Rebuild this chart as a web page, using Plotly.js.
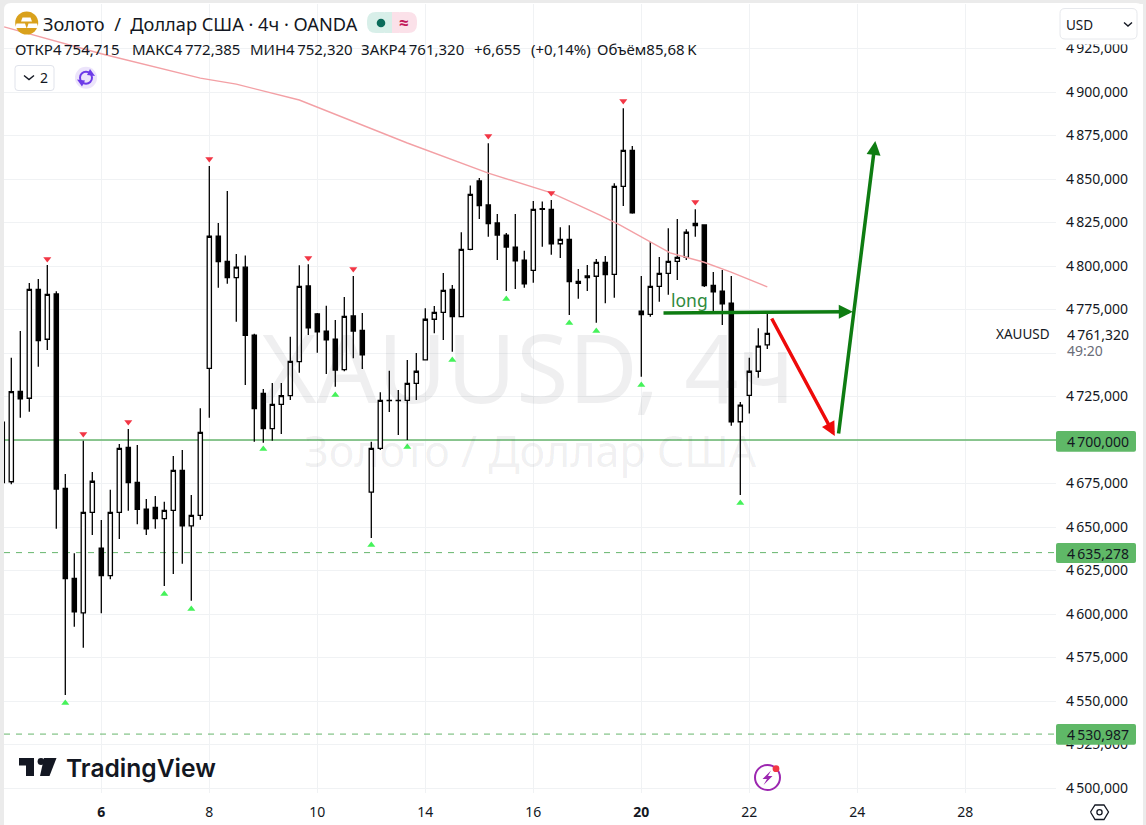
<!DOCTYPE html>
<html><head><meta charset="utf-8">
<script src="https://cdn.plot.ly/plotly-3.0.1.min.js"></script>
<style>html,body{margin:0;padding:0;background:#ebebeb}#c{width:1146px;height:825px}</style>
</head><body><div id="c"></div>
<script>
const openVals=[4710.3,4676,4728,4724,4786.6,4757.9,4783.9,4672.2,4620.5,4600.7,4658.4,4637.8,4622,4658.4,4695.8,4675.7,4660.2,4661.3,4654.8,4659.6,4682.6,4650.7,4656.7,4741.2,4817.1,4802.7,4793.3,4799.3,4760.2,4726.8,4706.5,4720.5,4725.5,4745,4788.5,4772.4,4762.6,4758,4740.4,4771.3,4763,4670.1,4695.2,4722.8,4722.8,4722.8,4732.6,4746,4769.4,4773.4,4786.6,4770.9,4809.6,4848.9,4835.1,4824.7,4817.8,4810.9,4803.4,4797.5,4832.6,4832.6,4812.8,4815.3,4791.2,4794.3,4794.1,4802.1,4795.2,4845.8,4866.5,4774,4772.2,4788.3,4795.8,4802.7,4805,4824.5,4823.6,4788.9,4785.6,4778.6,4710.5,4725.7,4739.5,4754.715];
const highVals=[4712,4747.3,4762.6,4790.2,4792.5,4800.6,4785.5,4680.5,4634.9,4699.6,4681.6,4654,4671.4,4697.7,4706.3,4697.1,4666.1,4667.8,4664.5,4690.8,4694.3,4668.4,4718.2,4857.5,4824.7,4843.1,4806.9,4806.1,4761,4729.3,4732.8,4732.8,4759.4,4800.4,4801,4773,4777.2,4769,4782.2,4794.3,4773,4699,4727.4,4739.8,4728.7,4746,4750,4775.7,4777,4796,4789.1,4819.4,4846.2,4850.6,4870.5,4829.9,4819,4829.9,4808.8,4837.4,4837,4838,4822.2,4823.4,4798.3,4800.6,4804,4805.7,4847.5,4890.6,4869,4794.3,4814,4805.2,4821.7,4827,4821.1,4832.6,4824,4796.6,4797.7,4794.3,4721.8,4747.3,4764.2,4772.385];
const lowVals=[4674,4674.5,4712.8,4716.3,4742.1,4751.7,4649,4553.4,4592.7,4580.6,4645.4,4600.4,4620,4643.1,4659.4,4651.6,4645.4,4649,4616.1,4623,4628.9,4607.6,4654.2,4712.8,4787.5,4789.8,4768,4731.6,4699,4698.4,4699.6,4703.4,4723,4738.7,4760.3,4750.2,4738,4730.6,4739.5,4747,4740.8,4643.7,4694.3,4716.1,4702.9,4700,4723,4745.7,4761.3,4757.5,4750.7,4770.5,4809,4827,4816.8,4803.4,4785.6,4786.8,4787.5,4790.4,4811.1,4806.5,4804.6,4771.8,4781.2,4785.6,4767.4,4778.6,4781.8,4834.5,4830,4736.4,4770.9,4779.5,4783.5,4792,4803.4,4816.8,4788,4773.7,4766.1,4708.2,4668.4,4715.3,4735.8,4752.32];
const closeVals=[4675.5,4727.8,4723.7,4786.6,4757.1,4783.7,4671.8,4620.3,4601.3,4658.4,4676.3,4622,4658.4,4695.2,4675.5,4660.2,4649,4654.8,4659.6,4682.6,4650.7,4656.7,4704.4,4817.1,4802.5,4793.3,4799.3,4760.2,4718,4706.5,4720.5,4725.5,4745.2,4788.3,4764.5,4762.1,4757.5,4740.2,4771.1,4762.6,4748.9,4695.2,4722.8,4722.6,4722.6,4732.6,4739.5,4769.4,4773.4,4786,4770.9,4809.6,4841.2,4834.7,4824.3,4817.8,4810.9,4803,4789.7,4832.6,4832.9,4812.8,4815.3,4791,4790,4793.3,4802.1,4795,4845.8,4866.5,4830.6,4772,4788.3,4795.8,4802.7,4805,4819.4,4823.2,4788.7,4785.2,4778.3,4710.5,4720,4739.5,4753.9,4761.32];
const candleIdx=openVals.map((_,i)=>i-1);

const maIdx=[-0.8,10,21,25,32,41,44,53,60,63,65.4,67.6,73.2,76.9,79.9,84];
const maVals=[4937.4,4922,4908,4904.5,4895.4,4877,4870.7,4853.4,4842,4835,4829.3,4823.6,4807.5,4802.3,4796.6,4788];

const pivotHighIdx=[4,8,13,22,33,38,53,60,68,76];
const pivotHighVals=[4804,4703.4,4710.3,4861.5,4804.6,4798.3,4874.7,4842,4894.8,4836.8];
const pivotLowIdx=[6,17,20,28,36,40,44,49,55,62,65,70,81];
const pivotLowVals=[4548.9,4611.5,4602.9,4694.8,4725.9,4639.7,4696,4746,4781,4767.2,4762.6,4731.6,4663.8];

const xTickVals=[10,22,34,46,58,70,82,94,106];
const xTickText=['<b>6</b>','8','10','14','16','<b>20</b>','22','24','28'];
const yTickVals=[4500,4525,4550,4575,4600,4625,4650,4675,4700,4725,4750,4775,4800,4825,4850,4875,4900,4925];
const yTickText=yTickVals.map(v=>'4\u2009'+String(v).slice(1)+',000');

const solidLevel=4700, dashLevels=[4635.278,4530.987];
const levelLabels=['4\u2009700,000','4\u2009635,278','4\u2009530,987'];
const legendParts=['ОТКР4\u2009754,715','МАКС4\u2009772,385','МИН4\u2009752,320','ЗАКР4\u2009761,320','+6,655','(+0,14%)','Объём85,68\u2009K'];
const legendLeft=[14,131,249,360,473,530,596];

const FONT='"Noto Sans","Open Sans",sans-serif', INK='#131722';
const L=4,R=1056,T=4,B=793;
const xRange=[(L-11.3)/9,(R-11.3)/9];
const X=p=>(p-L)/(R-L), Y=p=>(B-p)/(B-T);
const base={xref:'paper',yref:'paper'};
const poly=(pts,fill,layer)=>({...base,type:'path',layer:layer||'above',fillcolor:fill,line:{width:0},
  path:'M'+pts.map(p=>X(p[0])+','+Y(p[1])).join('L')+'Z'});
const stroke=(pts,color,w)=>({...base,type:'path',layer:'above',line:{color:color,width:w},
  path:'M'+pts.map(p=>X(p[0])+','+Y(p[1])).join('L')});
const rect=(x0,y0,x1,y1,fill,layer)=>({...base,type:'rect',layer:layer||'above',x0:X(x0),x1:X(x1),y0:Y(y0),y1:Y(y1),fillcolor:fill,line:{width:0}});
const circ=(cx,cy,r,fill,lc,lw)=>({...base,type:'circle',layer:'above',x0:X(cx-r),x1:X(cx+r),y0:Y(cy-r),y1:Y(cy+r),fillcolor:fill,line:{color:lc||fill,width:lw||0}});
function rrect(x0,y0,x1,y1,r,fill,lc,lw,layer){
  const q=(a,b)=>X(a)+','+Y(b);
  return {...base,type:'path',layer:layer||'above',fillcolor:fill,line:{color:lc||fill,width:lw||0},
   path:'M'+q(x0+r,y0)+'L'+q(x1-r,y0)+'Q'+q(x1,y0)+' '+q(x1,y0+r)+'L'+q(x1,y1-r)+'Q'+q(x1,y1)+' '+q(x1-r,y1)+'L'+q(x0+r,y1)+'Q'+q(x0,y1)+' '+q(x0,y1-r)+'L'+q(x0,y0+r)+'Q'+q(x0,y0)+' '+q(x0+r,y0)+'Z'};
}
const txt=(x,y,text,size,color,anchor,extra)=>Object.assign({...base,x:X(x),y:Y(y),text:text,showarrow:false,
  xanchor:anchor||'left',yanchor:'middle',borderpad:0,font:{family:FONT,size:size,color:color||INK}},extra||{});

const shapes=[
  rrect(4,3,1143,840,7,'#ffffff',null,0,'below'),
  {type:'line',xref:'x',yref:'y',layer:'between',x0:xRange[0],x1:xRange[1],y0:solidLevel,y1:solidLevel,line:{color:'#66b56c',width:1.7}},
  ...dashLevels.map(v=>({type:'line',xref:'x',yref:'y',layer:'between',x0:xRange[0],x1:xRange[1],y0:v,y1:v,line:{color:'#66b56c',width:1,dash:'6px,6px'}})),
  rect(1056,4,1143,44.5,'#ffffff'),
  rrect(1060,8.5,1137,39,5,'#ffffff','#e6e8ec',1),
  stroke([[1124,22.5],[1128,26],[1132,22.5]],INK,1.4),
  rect(1056,323,1143,361,'#ffffff'),
  rrect(1056,431,1136,451.7,2,'#5fb867'),
  rrect(1056,543,1136,563,2,'#5fb867'),
  rrect(1056,724,1136,744.7,2,'#5fb867'),
  circ(26.7,23,11.5,'#d9a11c'),
  poly([[22.5,17.5],[30.5,17.5],[32,21.5],[21,21.5]],'#ffffff'),
  poly([[16.5,23.5],[25,23.5],[26.5,28],[15,28]],'#ffffff'),
  poly([[28.5,23.5],[37,23.5],[38.5,28],[27,28]],'#ffffff'),
  rrect(367,12,392,33,9,'#d8efe9'),
  rrect(392,12,417,33,9,'#fbe1e9'),
  rect(385,12,392,33,'#d8efe9'),
  rect(392,12,399,33,'#fbe1e9'),
  circ(381,23,4.3,'#0b6b5a'),
  rrect(15,65.5,54,90.5,3,'#ffffff','#e0e3eb',1),
  stroke([[24,75.5],[29,79.5],[34,75.5]],INK,1.4),
  circ(86,77.7,11,'#ece4fb'),
  circ(86,77.7,6,'rgba(0,0,0,0)','#6d3be8',2),
  poly([[90,69],[95,76],[87,75]],'#6d3be8'),
  poly([[82,86.5],[77,79.5],[85,80.5]],'#6d3be8'),
  poly([[19,758],[34,758],[34,776],[26,776],[26,765.5],[19,765.5]],'#131722'),
  circ(41,761.5,3.4,'#131722'),
  poly([[44,758],[56.5,758],[49.5,776],[40,776]],'#131722'),
  circ(767.5,777.5,12.5,'#ffffff','#9c27b0',2),
  poly([[771,770.5],[762.5,779],[767,779],[763.5,785],[772.5,776],[768,776]],'#9c27b0'),
  circ(776,768.7,3.4,'#f23645'),
  stroke([[1090.5,812],[1095,805],[1104,805],[1108.5,812],[1104,819.5],[1095,819.5],[1090.5,812]],INK,1.3),
  circ(1099.5,812.2,2.6,'#ffffff',INK,1.3)
];

const arrow=(fromI,fromV,toI,toV,color,w,sz)=>({x:toI,y:toV,ax:fromI,ay:fromV,xref:'x',yref:'y',axref:'x',ayref:'y',text:'',showarrow:true,
  arrowhead:2,arrowsize:sz,arrowwidth:w,arrowcolor:color,standoff:0,startstandoff:0});

const annotations=[
  txt(527,366,'XAUUSD, 4ч',95,'rgba(40,45,60,0.075)','center'),
  txt(530,450,'Золото\u00a0/\u00a0Доллар США',43,'rgba(40,45,60,0.075)','center'),
  txt(42,24,'Золото\u00a0 /\u00a0 Доллар США · 4ч · OANDA',18.2,INK),
  txt(404,22.5,'<b>≈</b>',17,'#c2185b','center'),
  ...legendParts.map((t,i)=>txt(legendLeft[i],49,t,15,INK)),
  txt(44,78,'2',14,INK,'center'),
  txt(1065,25,'USD',13.5,INK),
  txt(1050.5,334,'XAUUSD',13.5,INK,'right'),
  txt(1066,334,'4\u2009761,320',14,INK),
  txt(1066,351,'49:20',14,'#6a6d78'),
  txt(1066,441,levelLabels[0],14,INK),
  txt(1066,553,levelLabels[1],14,INK),
  txt(1066,734.5,levelLabels[2],14,INK),
  txt(65,768,'TradingView',24.6,'#131722','left',{font:{family:'Inter,"Noto Sans",sans-serif',size:24.6,color:'#131722',weight:600}}),
  {x:75.3,y:4780.3,xref:'x',yref:'y',text:'long',showarrow:false,font:{family:FONT,size:17.5,color:'#2e8b3d'}},
  arrow(72.3,4773,93.5,4773.7,'#0e7c12',3.5,0.8),
  arrow(84.4,4770.7,91.5,4702.3,'#ee0a0a',3.5,0.8),
  arrow(91.9,4702.9,96,4871.8,'#0e7c12',3.5,0.8)
];

const traces=[
 {type:'scatter',mode:'lines',x:maIdx,y:maVals,line:{color:'#f3a0a5',width:1.4},hoverinfo:'skip',showlegend:false},
 {type:'candlestick',x:candleIdx,open:openVals,high:highVals,low:lowVals,close:closeVals,whiskerwidth:0,showlegend:false,
  increasing:{line:{color:'#000000',width:1.3},fillcolor:'#ffffff'},
  decreasing:{line:{color:'#000000',width:1.3},fillcolor:'#000000'}},
 {type:'scatter',mode:'markers',x:pivotHighIdx,y:pivotHighVals,marker:{symbol:'triangle-down',size:7,color:'#f23645'},hoverinfo:'skip',showlegend:false},
 {type:'scatter',mode:'markers',x:pivotLowIdx,y:pivotLowVals,marker:{symbol:'triangle-up',size:7,color:'#45f25a'},hoverinfo:'skip',showlegend:false}
];

const layout={
  width:1146,height:825,margin:{l:L,r:1146-R,t:T,b:825-B,pad:0},
  paper_bgcolor:'#ebebeb',plot_bgcolor:'rgba(0,0,0,0)',showlegend:false,boxgap:0.33,
  font:{family:FONT,size:14,color:INK},
  xaxis:{type:'linear',range:xRange,tickmode:'array',tickvals:xTickVals,ticktext:xTickText,
    showgrid:true,gridcolor:'#f0f2f4',gridwidth:1,zeroline:false,showline:false,ticks:'',ticklabelstandoff:9,
    rangeslider:{visible:false},fixedrange:true,tickfont:{family:FONT,size:14,color:INK}},
  yaxis:{side:'right',range:[4900-(B-92)/1.74,4900+(92-T)/1.74],tickmode:'array',tickvals:yTickVals,ticktext:yTickText,
    showgrid:true,gridcolor:'#f0f2f4',gridwidth:1,zeroline:false,showline:false,ticks:'',ticklabelstandoff:9,
    fixedrange:true,tickfont:{family:FONT,size:14,color:INK}},
  shapes:shapes,annotations:annotations
};
Plotly.newPlot('c',traces,layout,{displayModeBar:false,staticPlot:true});
</script></body></html>
